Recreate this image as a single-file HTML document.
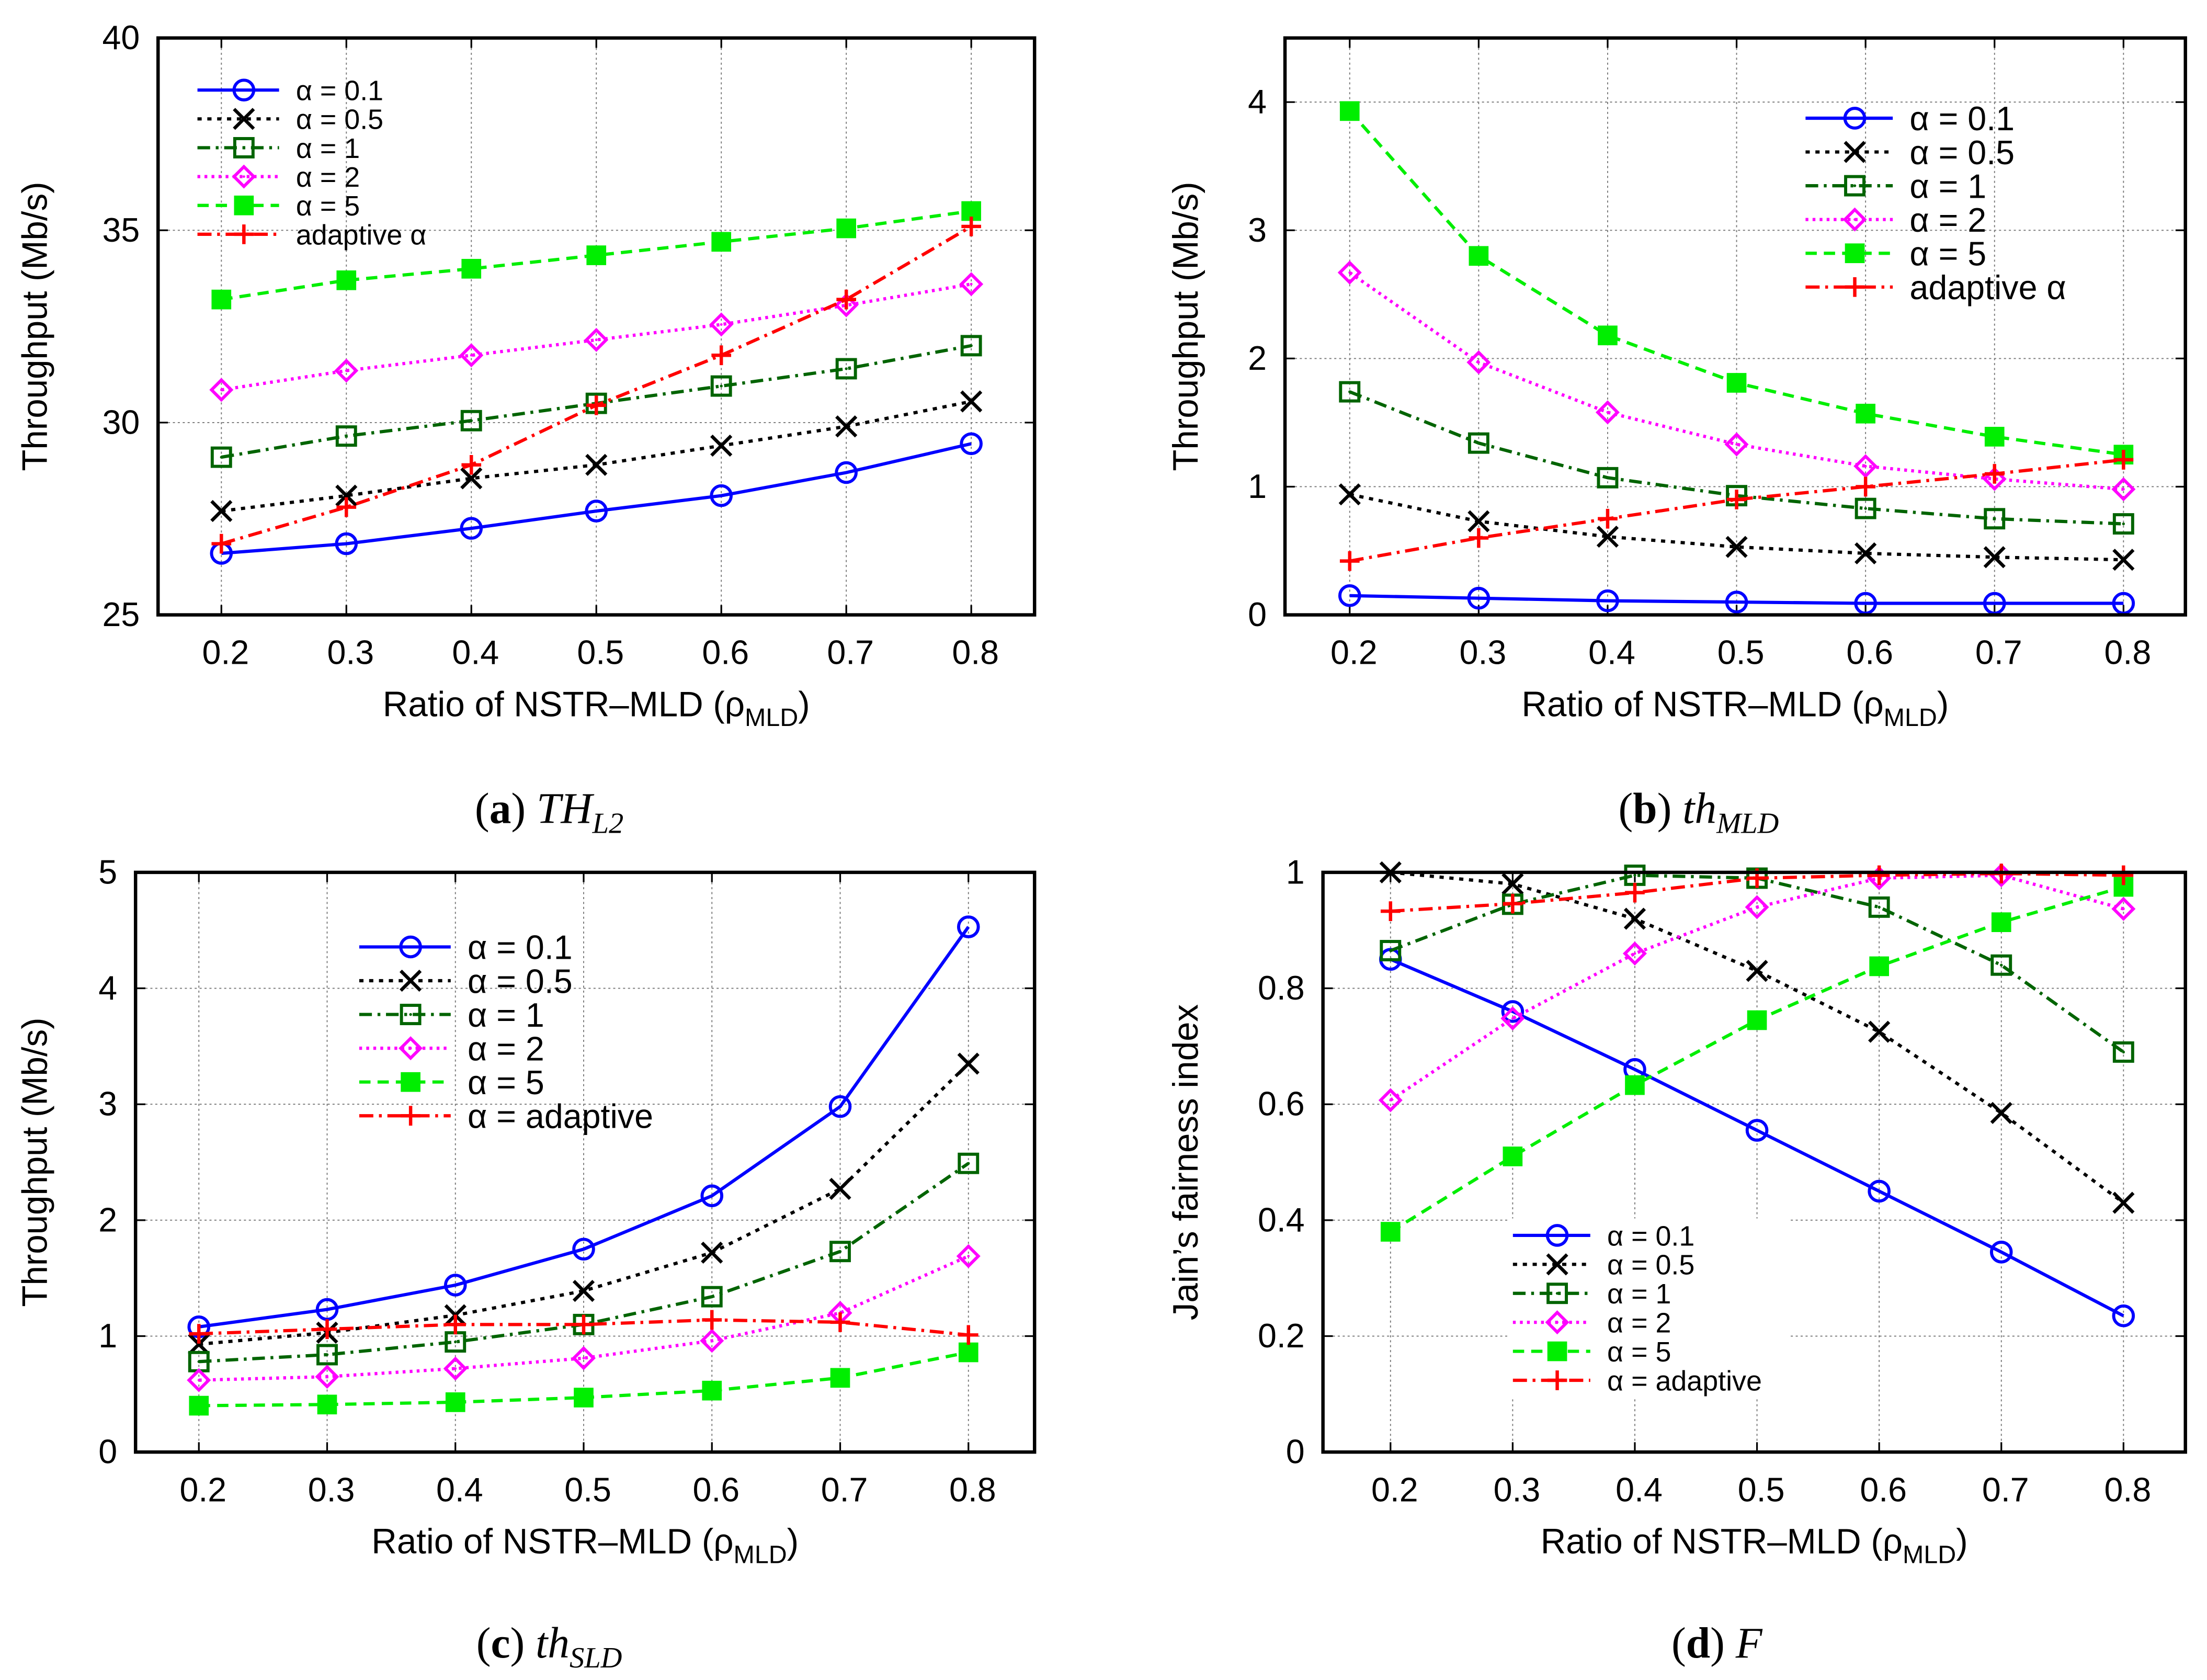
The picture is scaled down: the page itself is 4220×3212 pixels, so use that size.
<!DOCTYPE html>
<html><head><meta charset="utf-8"><style>html,body{margin:0;padding:0;background:#fff}svg{display:block}</style></head>
<body>
<svg id="fig" xmlns="http://www.w3.org/2000/svg" width="4220" height="3212" viewBox="0 0 1568 1194" font-family="'Liberation Sans', sans-serif"></svg>
<script>
const xCategories = [0.2,0.3,0.4,0.5,0.6,0.7,0.8];
const seriesNames = ['alpha-0.1','alpha-0.5','alpha-1','alpha-2','alpha-5','adaptive'];
const a_alpha01 = [26.6,26.85,27.25,27.7,28.1,28.7,29.45];
const a_alpha05 = [27.7,28.1,28.55,28.9,29.4,29.9,30.55];
const a_alpha1 = [29.1,29.65,30.05,30.5,30.95,31.4,32.0];
const a_alpha2 = [30.85,31.35,31.75,32.15,32.55,33.05,33.6];
const a_alpha5 = [33.2,33.7,34.0,34.35,34.7,35.05,35.5];
const a_adapt = [26.85,27.8,28.9,30.45,31.75,33.2,35.1];
const b_alpha01 = [0.15,0.13,0.11,0.1,0.09,0.09,0.09];
const b_alpha05 = [0.94,0.73,0.61,0.53,0.48,0.45,0.43];
const b_alpha1 = [1.74,1.34,1.07,0.93,0.83,0.75,0.71];
const b_alpha2 = [2.67,1.97,1.58,1.33,1.16,1.06,0.98];
const b_alpha5 = [3.93,2.8,2.18,1.81,1.57,1.39,1.25];
const b_adapt = [0.42,0.6,0.75,0.9,1.0,1.1,1.21];
const c_alpha01 = [1.08,1.23,1.44,1.75,2.21,2.98,4.53];
const c_alpha05 = [0.93,1.03,1.18,1.39,1.72,2.27,3.35];
const c_alpha1 = [0.78,0.84,0.95,1.1,1.34,1.73,2.49];
const c_alpha2 = [0.62,0.65,0.72,0.81,0.96,1.2,1.69];
const c_alpha5 = [0.4,0.41,0.43,0.47,0.53,0.64,0.86];
const c_adapt = [1.02,1.06,1.1,1.1,1.14,1.12,1.01];
const d_alpha01 = [0.85,0.76,0.66,0.555,0.45,0.345,0.235];
const d_alpha05 = [1.0,0.98,0.92,0.83,0.725,0.585,0.43];
const d_alpha1 = [0.865,0.945,0.995,0.99,0.94,0.84,0.69];
const d_alpha2 = [0.607,0.748,0.86,0.94,0.99,0.995,0.937];
const d_alpha5 = [0.38,0.51,0.633,0.745,0.838,0.914,0.975];
const d_adapt = [0.933,0.946,0.965,0.99,0.995,0.998,0.995];
const a_yticks = [25,30,35,40];
const b_yticks = [0,1,2,3,4];
const c_yticks = [0,1,2,3,4,5];
const d_yticks = [0,0.2,0.4,0.6,0.8,1];
const labelsAB = ['α = 0.1','α = 0.5','α = 1','α = 2','α = 5','adaptive α'];
const labelsCD = ['α = 0.1','α = 0.5','α = 1','α = 2','α = 5','α = adaptive'];

const NS='http://www.w3.org/2000/svg';
const svg=document.getElementById('fig');
function el(tag,attrs,parent){const e=document.createElementNS(NS,tag);for(const k in attrs)e.setAttribute(k,attrs[k]);(parent||svg).appendChild(e);return e;}
const styles=[
 {c:'#0000ff',d:'',m:'circle'},
 {c:'#000000',d:'3,4',m:'x'},
 {c:'#006400',d:'9,4,2,4',m:'sq'},
 {c:'#ff00ff',d:'2,3',m:'diamond'},
 {c:'#00ee00',d:'8,5',m:'fsq'},
 {c:'#ff0000',d:'10,4,2,4',m:'plus'}];
function marker(g,m,c,x,y){
 const s=7;
 if(m==='circle')el('circle',{cx:x,cy:y,r:s,fill:'none',stroke:c,'stroke-width':2.2},g);
 else if(m==='x')el('path',{d:`M${x-s} ${y-s}L${x+s} ${y+s}M${x-s} ${y+s}L${x+s} ${y-s}`,stroke:c,'stroke-width':2.4},g);
 else if(m==='sq'){el('rect',{x:x-s+0.5,y:y-s+0.5,width:2*s-1,height:2*s-1,fill:'none',stroke:c,'stroke-width':2.2},g);el('circle',{cx:x,cy:y,r:1,fill:c},g);}
 else if(m==='diamond'){el('path',{d:`M${x} ${y-s}L${x+s} ${y}L${x} ${y+s}L${x-s} ${y}Z`,fill:'none',stroke:c,'stroke-width':2.2},g);el('circle',{cx:x,cy:y,r:0.9,fill:c},g);}
 else if(m==='fsq')el('rect',{x:x-s,y:y-s,width:2*s,height:2*s,fill:c},g);
 else el('path',{d:`M${x-s} ${y}L${x+s} ${y}M${x} ${y-s}L${x} ${y+s}`,stroke:c,'stroke-width':2.4},g);
}
function panel(p){
 const g=el('g',{});
 
 
 const X=v=>p.x0+(v-0.2)/(0.6)*(p.x1-p.x0);
 const Y=v=>p.bot-(v-p.ymin)/(p.ymax-p.ymin)*(p.bot-p.top);
 xCategories.forEach(v=>{const l=el('line',{x1:X(v),x2:X(v),y1:p.top,y2:p.bot,stroke:'#777','stroke-width':0.7,'stroke-dasharray':'1.5,2'},g);
  el('line',{x1:X(v),x2:X(v),y1:p.bot,y2:p.bot-7,stroke:'#000','stroke-width':1.2},g);el('line',{x1:X(v),x2:X(v),y1:p.top,y2:p.top+7,stroke:'#000','stroke-width':1.2},g);
  const t=el('text',{x:X(v)+3,y:p.bot+35,'font-size':24,'text-anchor':'middle'},g);t.textContent=v.toFixed(1);});
 p.yticks.forEach(v=>{const y=Y(v);
  if(y>p.top+1&&y<p.bot-1)el('line',{x1:p.left,x2:p.right,y1:y,y2:y,stroke:'#777','stroke-width':0.7,'stroke-dasharray':'1.5,2'},g);
  el('line',{x1:p.left,x2:p.left+7,y1:y,y2:y,stroke:'#000','stroke-width':1.2},g);el('line',{x1:p.right,x2:p.right-7,y1:y,y2:y,stroke:'#000','stroke-width':1.2},g);
  const t=el('text',{x:p.left-13,y:y+8,'font-size':24,'text-anchor':'end'},g);t.textContent=String(v);});
 if(p.legBg)el('rect',{x:p.lx-4,y:p.ly-12,width:p.legBg,height:p.ldy*6+4,fill:'#fff'},g);
 p.series.forEach((vals,i)=>{const st=styles[i];
  const pts=vals.map((v,j)=>X(xCategories[j])+','+Y(v)).join(' ');
  const pl=el('polyline',{points:pts,fill:'none',stroke:st.c,'stroke-width':2.3,'stroke-dasharray':st.d},g);
  
  vals.forEach((v,j)=>marker(g,st.m,st.c,X(xCategories[j]),Y(v)));});
 p.labels.forEach((lab,i)=>{const st=styles[i];const y=p.ly+i*p.ldy;
  const lg=el('g',{},g);
  el('line',{x1:p.lx,x2:p.lx+p.lw,y1:y,y2:y,stroke:st.c,'stroke-width':2.3,'stroke-dasharray':st.d},lg);
  marker(lg,st.m,st.c,p.lx+p.lw/2+4,y);
  const t=el('text',{x:p.lx+p.lw+12,y:y+p.lfs*0.36,'font-size':p.lfs},lg);t.textContent=lab;});
 const box=el('rect',{x:p.left,y:p.top,width:p.right-p.left,height:p.bot-p.top,fill:'none',stroke:'#000','stroke-width':2.4},g);
 
 const yl=el('text',{x:0,y:0,'font-size':25,'text-anchor':'middle',transform:`translate(${p.ylx},${(p.top+p.bot)/2}) rotate(-90)`},g);
 yl.textContent=p.ylab;
 const xl=el('text',{x:(p.left+p.right)/2,y:p.bot+72,'font-size':25,'text-anchor':'middle'},g);
 xl.innerHTML='Ratio of NSTR–MLD (ρ<tspan font-size="18" dy="7">MLD</tspan><tspan dy="-7">)</tspan>';
 
 const cap=el('text',{x:p.capx,y:p.capy,'font-size':31,'text-anchor':'middle','font-family':"'Liberation Serif', serif"},g);
 cap.innerHTML=p.cap;
}
panel({name:'panel-a',left:112,right:735,top:27,bot:437,x0:157,x1:690,ymin:25,ymax:40,yticks:a_yticks,
 series:[a_alpha01,a_alpha05,a_alpha1,a_alpha2,a_alpha5,a_adapt],labels:labelsAB,lx:140,ly:64,ldy:20.5,lw:58,lfs:20,
 ylab:'Throughput (Mb/s)',ylx:33,capx:390,capy:585,cap:'(<tspan font-weight="bold">a</tspan>) <tspan font-style="italic">TH</tspan><tspan font-style="italic" font-size="21" dy="7">L2</tspan>'});
panel({name:'panel-b',left:913,right:1553,top:27,bot:437,x0:959,x1:1509,ymin:0,ymax:4.5,yticks:b_yticks,
 series:[b_alpha01,b_alpha05,b_alpha1,b_alpha2,b_alpha5,b_adapt],labels:labelsAB,lx:1283,ly:84,ldy:24,lw:62,lfs:24,
 ylab:'Throughput (Mb/s)',ylx:851,capx:1207,capy:585,cap:'(<tspan font-weight="bold">b</tspan>) <tspan font-style="italic">th</tspan><tspan font-style="italic" font-size="21" dy="7">MLD</tspan>'});
panel({name:'panel-c',left:96,right:735,top:620,bot:1032,x0:141,x1:688,ymin:0,ymax:5,yticks:c_yticks,
 series:[c_alpha01,c_alpha05,c_alpha1,c_alpha2,c_alpha5,c_adapt],labels:labelsCD,lx:255,ly:673,ldy:24,lw:65,lfs:24,
 ylab:'Throughput (Mb/s)',ylx:33,capx:390,capy:1178,cap:'(<tspan font-weight="bold">c</tspan>) <tspan font-style="italic">th</tspan><tspan font-style="italic" font-size="21" dy="7">SLD</tspan>'});
panel({name:'panel-d',left:940,right:1553,top:620,bot:1032,x0:988,x1:1509,ymin:0,ymax:1,yticks:d_yticks,
 series:[d_alpha01,d_alpha05,d_alpha1,d_alpha2,d_alpha5,d_adapt],labels:labelsCD,lx:1075,ly:878,ldy:20.6,lw:55,lfs:20,legBg:200,
 ylab:'Jain’s fairness index',ylx:851,capx:1220,capy:1178,cap:'(<tspan font-weight="bold">d</tspan>) <tspan font-style="italic">F</tspan>'});
</script>
</body></html>
